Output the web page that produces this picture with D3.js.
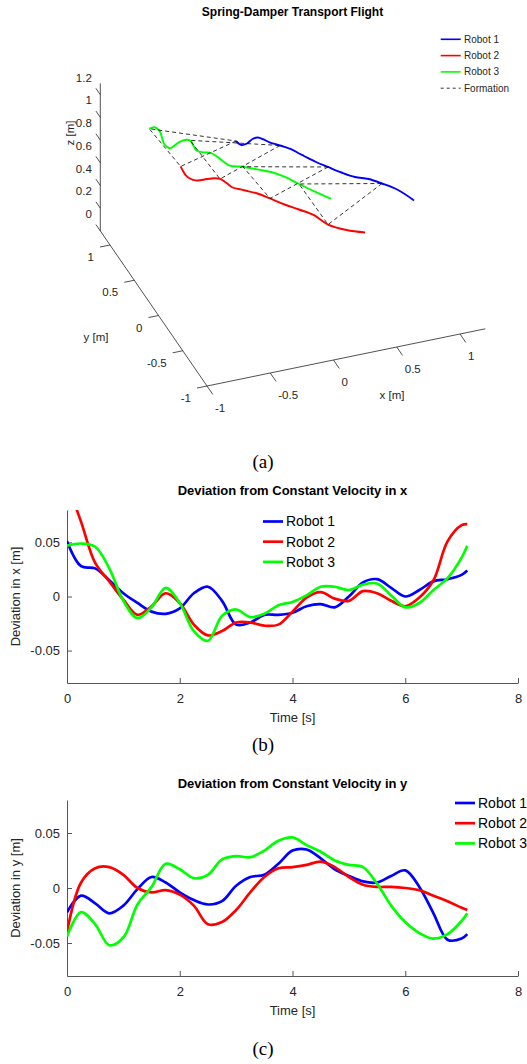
<!DOCTYPE html>
<html>
<head>
<meta charset="utf-8">
<script src="https://cdn.jsdelivr.net/npm/d3@7"></script>
<style>
body { margin: 0; background: #fff; }
svg { display: block; font-family: "Liberation Sans", Arial, sans-serif; }
</style>
</head>
<body>
<svg id="fig" width="527" height="1064"></svg>
<script>
const robots = ['Robot 1', 'Robot 2', 'Robot 3'];
const colors = ['#0000ff', '#ff0000', '#00ff00'];

// (a) 3D trajectories, sampled at t3d [s]
const t3d = [0, 0.25, 0.5, 0.75, 1, 1.25, 1.5, 1.75, 2, 2.25, 2.5, 2.75, 3, 3.5, 4, 4.5, 5, 5.5, 6, 6.5, 7];
const r1x = [-0.173, -0.154, -0.108, -0.049, -0.004, 0.025, 0.051, 0.080, 0.111, 0.143, 0.175, 0.200, 0.227, 0.281, 0.341, 0.408, 0.480, 0.564, 0.636, 0.716, 0.777];
const r1y = [0.560, 0.496, 0.501, 0.543, 0.547, 0.509, 0.463, 0.425, 0.392, 0.352, 0.311, 0.253, 0.200, 0.095, 0.002, -0.101, -0.191, -0.251, -0.341, -0.463, -0.634];
const r2x = [-0.677, -0.684, -0.668, -0.642, -0.607, -0.568, -0.532, -0.495, -0.464, -0.439, -0.418, -0.382, -0.346, -0.274, -0.211, -0.139, -0.063, 0.012, 0.067, 0.169, 0.285];
const r2y = [0.385, 0.266, 0.207, 0.174, 0.164, 0.163, 0.158, 0.151, 0.129, 0.067, -0.009, -0.043, -0.078, -0.147, -0.241, -0.353, -0.452, -0.557, -0.713, -0.828, -0.906];
const r3x = [-0.715, -0.672, -0.654, -0.684, -0.666, -0.618, -0.566, -0.522, -0.488, -0.491, -0.453, -0.409, -0.380, -0.333, -0.247, -0.163, -0.078, -0.005, 0.059, 0.133, 0.209];
const r3y = [0.934, 0.939, 0.882, 0.699, 0.640, 0.663, 0.694, 0.703, 0.686, 0.543, 0.503, 0.483, 0.421, 0.270, 0.223, 0.154, 0.085, -0.012, -0.135, -0.272, -0.403];
const heights = [1.0, 1.0, 1.0];
const formationTimes = [0, 2, 4, 6];
const xTicks3d = [-1, -0.5, 0, 0.5, 1];
const yTicks3d = [-1, -0.5, 0, 0.5, 1];
const zTicks3d = [0, 0.2, 0.4, 0.6, 0.8, 1, 1.2];

// (b), (c) deviations from constant velocity [m]
const tDev = [0, 0.25, 0.5, 0.75, 1, 1.25, 1.5, 1.75, 2, 2.25, 2.5, 2.75, 3, 3.25, 3.5, 3.75, 4, 4.25, 4.5, 4.75, 5, 5.25, 5.5, 5.75, 6, 6.25, 6.5, 6.75, 7, 7.1];
const devX1 = [0.051, 0.028, 0.026, 0.015, 0.003, -0.006, -0.014, -0.016, -0.011, 0.003, 0.009, -0.004, -0.026, -0.024, -0.017, -0.017, -0.015, -0.009, -0.007, -0.010, 0.000, 0.013, 0.016, 0.008, 0.000, 0.006, 0.014, 0.016, 0.020, 0.024];
const devX2 = [0.105, 0.069, 0.031, 0.014, -0.003, -0.017, -0.009, 0.003, -0.006, -0.026, -0.036, -0.032, -0.024, -0.024, -0.027, -0.026, -0.014, -0.001, 0.004, -0.002, -0.004, 0.005, 0.003, -0.004, -0.009, -0.001, 0.015, 0.051, 0.066, 0.067];
const devX3 = [0.047, 0.049, 0.046, 0.026, -0.004, -0.020, -0.010, 0.008, -0.006, -0.032, -0.041, -0.018, -0.012, -0.019, -0.016, -0.008, -0.005, 0.001, 0.009, 0.009, 0.006, 0.011, 0.012, 0.001, -0.010, -0.006, 0.006, 0.017, 0.036, 0.047];
const devY1 = [-0.022, -0.007, -0.014, -0.023, -0.016, -0.001, 0.010, 0.005, -0.004, -0.011, -0.015, -0.012, 0.002, 0.010, 0.012, 0.022, 0.034, 0.035, 0.027, 0.017, 0.011, 0.006, 0.005, 0.011, 0.016, 0.001, -0.023, -0.047, -0.046, -0.042];
const devY2 = [-0.040, 0.005, 0.018, 0.019, 0.012, 0.000, -0.004, -0.002, -0.006, -0.016, -0.033, -0.031, -0.020, -0.004, 0.010, 0.018, 0.019, 0.021, 0.024, 0.019, 0.010, 0.003, 0.001, 0.001, 0.000, -0.002, -0.007, -0.012, -0.018, -0.020];
const devY3 = [-0.044, -0.022, -0.033, -0.052, -0.045, -0.015, 0.001, 0.022, 0.017, 0.009, 0.012, 0.026, 0.029, 0.028, 0.034, 0.043, 0.046, 0.039, 0.033, 0.025, 0.021, 0.019, 0.004, -0.016, -0.031, -0.041, -0.046, -0.042, -0.030, -0.023];
const timeTicks = [0, 2, 4, 6, 8];
const devTicks = [-0.05, 0, 0.05];

const axisColor = '#555';
const textColor = '#262626';
const svg = d3.select('#fig');

// ---------------- (a) 3D view ----------------
const pxX = d3.scaleLinear().domain([-1, 1]).range([0, 253]);
const pxY = d3.scaleLinear().domain([-1, 1]).range([0, -97]);
const pyX = d3.scaleLinear().domain([-1, 1]).range([0, -52]);
const pyY = d3.scaleLinear().domain([-1, 1]).range([0, -141]);
const pyZ = d3.scaleLinear().domain([0, 1]).range([0, -113.5]);
const proj = (x, y, z) => [207 + pxX(x) + pxY(y), 386 + pyX(x) + pyY(y) + pyZ(z)];

const ga = svg.append('g');

const seg = (a, b) => ga.append('line')
    .attr('x1', a[0]).attr('y1', a[1]).attr('x2', b[0]).attr('y2', b[1])
    .attr('stroke', textColor).attr('stroke-width', 0.8);

seg(proj(-1, 1.2, 0), proj(-1, 1.2, 1.3));
seg(proj(-1, -1, 0), proj(-1, 1.2, 0));
seg(proj(-1, -1, 0), proj(1.2, -1, 0));

const label3d = (txt, p, anchor) => ga.append('text')
    .attr('x', p[0]).attr('y', p[1]).attr('dy', '0.35em')
    .attr('text-anchor', anchor).attr('font-size', 11.5).attr('fill', textColor)
    .text(txt);

zTicks3d.forEach(z => {
    const p = proj(-1, 1.2, z);
    seg(p, proj(-1, 1.29, z));
    label3d(String(z), [p[0] - 8.5, p[1] - 17], 'end');
});
yTicks3d.forEach(y => {
    const p = proj(-1, y, 0);
    seg(p, proj(-1.079, y, 0));
    label3d(String(y), [p[0] - 16, p[1] + 12], 'end');
});
xTicks3d.forEach(x => {
    const p = proj(x, -1, 0);
    seg(p, proj(x, -1.12, 0));
    label3d(String(x), [p[0] + 8, p[1] + 22], 'start');
});

label3d('x [m]', [392, 395], 'middle');
label3d('y [m]', [96, 337], 'middle');
ga.append('text')
    .attr('transform', 'translate(70,133) rotate(-90)')
    .attr('dy', '0.35em').attr('text-anchor', 'middle')
    .attr('font-size', 11.5).attr('fill', textColor)
    .text('z [m]');

const tracks = [[r1x, r1y], [r2x, r2y], [r3x, r3y]];
const line3d = d3.line().curve(d3.curveCatmullRom.alpha(0.5));

tracks.forEach(([xs, ys], k) => {
    const pts = t3d.map((t, i) => proj(xs[i], ys[i], heights[k]));
    ga.append('path')
        .attr('d', line3d(pts))
        .attr('fill', 'none')
        .attr('stroke', colors[k])
        .attr('stroke-width', 1.9)
        .attr('stroke-linejoin', 'round');
});

// formation triangles
formationTimes.forEach(ft => {
    const i = t3d.indexOf(ft);
    const tri = tracks.map(([xs, ys], k) => proj(xs[i], ys[i], heights[k]));
    ga.append('path')
        .attr('d', d3.line()(tri) + 'Z')
        .attr('fill', 'none')
        .attr('stroke', '#000')
        .attr('stroke-width', 0.8)
        .attr('stroke-dasharray', '4,3');
});

ga.append('text')
    .attr('x', 292.5).attr('y', 12).attr('dy', '0.35em')
    .attr('text-anchor', 'middle').attr('font-size', 12).attr('font-weight', 'bold')
    .attr('fill', '#000')
    .text('Spring-Damper Transport Flight');

// legend (a)
const legA = robots.concat(['Formation']);
legA.forEach((name, i) => {
    const yy = 39.3 + i * 16.3;
    ga.append('line')
        .attr('x1', 440.7).attr('x2', 460.7).attr('y1', yy).attr('y2', yy)
        .attr('stroke', i < 3 ? colors[i] : '#000')
        .attr('stroke-width', i < 3 ? 1.6 : 0.8)
        .attr('stroke-dasharray', i < 3 ? null : '3,3');
    ga.append('text')
        .attr('x', 464).attr('y', yy).attr('dy', '0.35em')
        .attr('font-size', 10).attr('fill', textColor)
        .text(name);
});

// ---------------- (b), (c) deviation panels ----------------
function devPanel(opts) {
    const x = d3.scaleLinear().domain([0, 8]).range([67, 518]);
    const y = d3.scaleLinear().domain([-0.08, 0.08]).range([opts.bottom, opts.top]);
    const g = svg.append('g');

    g.append('clipPath').attr('id', opts.id)
        .append('rect')
        .attr('x', x.range()[0]).attr('y', opts.top)
        .attr('width', x.range()[1] - x.range()[0]).attr('height', opts.bottom - opts.top);

    const styleAxis = a => {
        a.attr('font-family', null).attr('font-size', null);
        a.select('.domain').attr('stroke', axisColor);
        a.selectAll('.tick line').attr('stroke', axisColor);
        a.selectAll('.tick text').attr('fill', textColor).attr('font-size', 13);
    };

    g.append('g')
        .attr('transform', `translate(0,${opts.bottom})`)
        .call(d3.axisBottom(x).tickValues(timeTicks).tickSizeInner(-5).tickSizeOuter(0)
            .tickPadding(11).tickFormat(d => String(d)))
        .call(styleAxis);

    g.append('g')
        .attr('transform', `translate(${x.range()[0]},0)`)
        .call(d3.axisLeft(y).tickValues(devTicks).tickSizeInner(-5).tickSizeOuter(0)
            .tickPadding(7).tickFormat(d => String(d)))
        .call(styleAxis);

    const line = d3.line()
        .x((d, i) => x(tDev[i]))
        .y(d => y(d))
        .curve(d3.curveCatmullRom.alpha(0.5));

    const lines = g.append('g').attr('clip-path', `url(#${opts.id})`);
    opts.series.forEach((s, k) => {
        lines.append('path')
            .attr('d', line(s))
            .attr('fill', 'none')
            .attr('stroke', colors[k])
            .attr('stroke-width', 2.7)
            .attr('stroke-linejoin', 'round');
    });

    g.append('text')
        .attr('x', 292.5).attr('y', opts.titleY).attr('dy', '0.35em')
        .attr('text-anchor', 'middle').attr('font-size', 13).attr('font-weight', 'bold')
        .attr('fill', '#000')
        .text(opts.title);

    g.append('text')
        .attr('x', 292.5).attr('y', opts.bottom + 34).attr('dy', '0.35em')
        .attr('text-anchor', 'middle').attr('font-size', 13).attr('fill', textColor)
        .text('Time [s]');

    g.append('text')
        .attr('transform', `translate(15,${(opts.top + opts.bottom) / 2}) rotate(-90)`)
        .attr('dy', '0.35em').attr('text-anchor', 'middle')
        .attr('font-size', 13).attr('fill', textColor)
        .text(opts.ylabel);

    robots.forEach((name, i) => {
        const yy = opts.legY + i * 20.2;
        g.append('line')
            .attr('x1', opts.legX).attr('x2', opts.legX + 20).attr('y1', yy).attr('y2', yy)
            .attr('stroke', colors[i]).attr('stroke-width', 2.7);
        g.append('text')
            .attr('x', opts.legX + 23).attr('y', yy).attr('dy', '0.35em')
            .attr('font-size', 14).attr('fill', '#000')
            .text(name);
    });

    svg.append('text')
        .attr('x', 263).attr('y', opts.captionY).attr('dy', '0.35em')
        .attr('text-anchor', 'middle')
        .attr('font-family', '"Liberation Serif", "Times New Roman", serif')
        .attr('font-size', 19).attr('fill', '#000')
        .text(opts.caption);
}

svg.append('text')
    .attr('x', 263).attr('y', 461).attr('dy', '0.35em')
    .attr('text-anchor', 'middle')
    .attr('font-family', '"Liberation Serif", "Times New Roman", serif')
    .attr('font-size', 19).attr('fill', '#000')
    .text('(a)');

devPanel({
    id: 'clipB', top: 510, bottom: 683, titleY: 490,
    title: 'Deviation from Constant Velocity in x', ylabel: 'Deviation in x [m]',
    series: [devX1, devX2, devX3], legX: 263, legY: 521.5,
    caption: '(b)', captionY: 744
});

devPanel({
    id: 'clipC', top: 800, bottom: 976, titleY: 783,
    title: 'Deviation from Constant Velocity in y', ylabel: 'Deviation in y [m]',
    series: [devY1, devY2, devY3], legX: 455, legY: 803,
    caption: '(c)', captionY: 1048
});
</script>
</body>
</html>
